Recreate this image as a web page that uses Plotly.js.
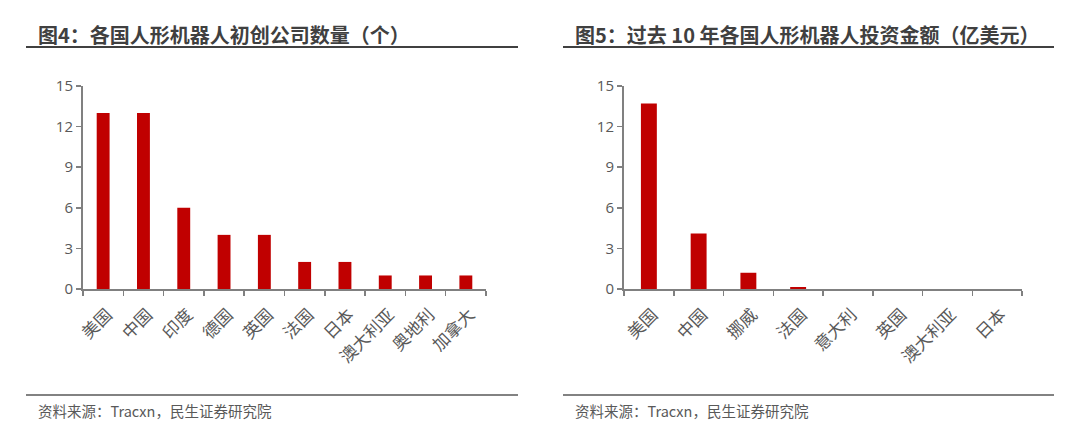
<!DOCTYPE html>
<html>
<head>
<meta charset="utf-8">
<script src="https://cdn.plot.ly/plotly-3.0.1.min.js"></script>
<style>html,body{margin:0;padding:0;background:#fff}#chart{width:1080px;height:431px}</style>
</head>
<body>
<div id="chart"></div>
<script>
const countries1 = ["美国","中国","印度","德国","英国","法国","日本","澳大利亚","奥地利","加拿大"];
const startups = [13,13,6,4,4,2,2,1,1,1];
const countries2 = ["美国","中国","挪威","法国","意大利","英国","澳大利亚","日本"];
const investment = [13.7,4.1,1.2,0.15,0,0,0,0];
const title1 = "图4：各国人形机器人初创公司数量（个）";
const title2 = "图5：过去 10 年各国人形机器人投资金额（亿美元）";
const source = "资料来源：Tracxn，民生证券研究院";

const W = 1080, H = 431;
const px = v => v / W;
const py = v => 1 - v / H;
const FONT = '"Noto Sans CJK SC", "Noto Sans", sans-serif';
const RED = '#C00000';
const AX = '#808080';
const TXT = '#595959';

const traces = [
  {type:'bar', x:countries1, y:startups, xaxis:'x', yaxis:'y', marker:{color:RED}, hoverinfo:'skip'},
  {type:'bar', x:countries2, y:investment, xaxis:'x2', yaxis:'y2', marker:{color:RED}, hoverinfo:'skip'}
];

function xa(domain){
  return {domain:domain, type:'category', tickson:'boundaries', ticks:'outside', ticklen:5, tickwidth:1.5,
    tickcolor:AX, showline:true, linecolor:AX, linewidth:2, showgrid:false, zeroline:false,
    tickangle:-45, tickfont:{family:FONT, size:17, color:TXT}, ticklabelstandoff:7, ticklabelshift:4, fixedrange:true};
}
function ya(domain, anchor){
  return {domain:domain, anchor:anchor, range:[0,15], dtick:3, tick0:0, ticks:'outside', ticklen:5, tickwidth:1.5,
    tickcolor:AX, showline:true, linecolor:AX, linewidth:2, showgrid:false, zeroline:false,
    tickfont:{family:'"Open Sans", "Noto Sans", sans-serif', size:15, color:TXT}, fixedrange:true};
}

const yDom = [py(289), py(86)];
const layout = {
  width:W, height:H, margin:{l:0,r:0,t:0,b:0}, showlegend:false,
  paper_bgcolor:'#fff', plot_bgcolor:'#fff', bargap:0.68,
  font:{family:FONT, color:TXT},
  xaxis: Object.assign(xa([px(83), px(486)]), {anchor:'y'}),
  yaxis: ya(yDom, 'x'),
  xaxis2: Object.assign(xa([px(624), px(1022)]), {anchor:'y2'}),
  yaxis2: ya(yDom, 'x2'),
  shapes:[
    {type:'line', xref:'paper', yref:'paper', x0:px(26), x1:px(518), y0:py(47), y1:py(47), line:{color:'#404040', width:2}},
    {type:'line', xref:'paper', yref:'paper', x0:px(563), x1:px(1054), y0:py(47), y1:py(47), line:{color:'#404040', width:2}},
    {type:'line', xref:'paper', yref:'paper', x0:px(26), x1:px(518), y0:py(395), y1:py(395), line:{color:'#595959', width:1.5}},
    {type:'line', xref:'paper', yref:'paper', x0:px(563), x1:px(1054), y0:py(395), y1:py(395), line:{color:'#595959', width:1.5}}
  ],
  annotations:[
    {text:'<b>'+title1+'</b>', xref:'paper', yref:'paper', x:px(36), y:py(35), xanchor:'left', yanchor:'middle', showarrow:false, font:{family:FONT, size:20, color:'#404040'}},
    {text:'<b>'+title2+'</b>', xref:'paper', yref:'paper', x:px(573), y:py(35), xanchor:'left', yanchor:'middle', showarrow:false, font:{family:FONT, size:20, color:'#404040'}},
    {text:source, xref:'paper', yref:'paper', x:px(36), y:py(410), xanchor:'left', yanchor:'middle', showarrow:false, font:{family:FONT, size:14.5, color:TXT}},
    {text:source, xref:'paper', yref:'paper', x:px(573), y:py(410), xanchor:'left', yanchor:'middle', showarrow:false, font:{family:FONT, size:14.5, color:TXT}}
  ]
};
Plotly.newPlot('chart', traces, layout, {staticPlot:true, displayModeBar:false});
</script>
</body>
</html>
